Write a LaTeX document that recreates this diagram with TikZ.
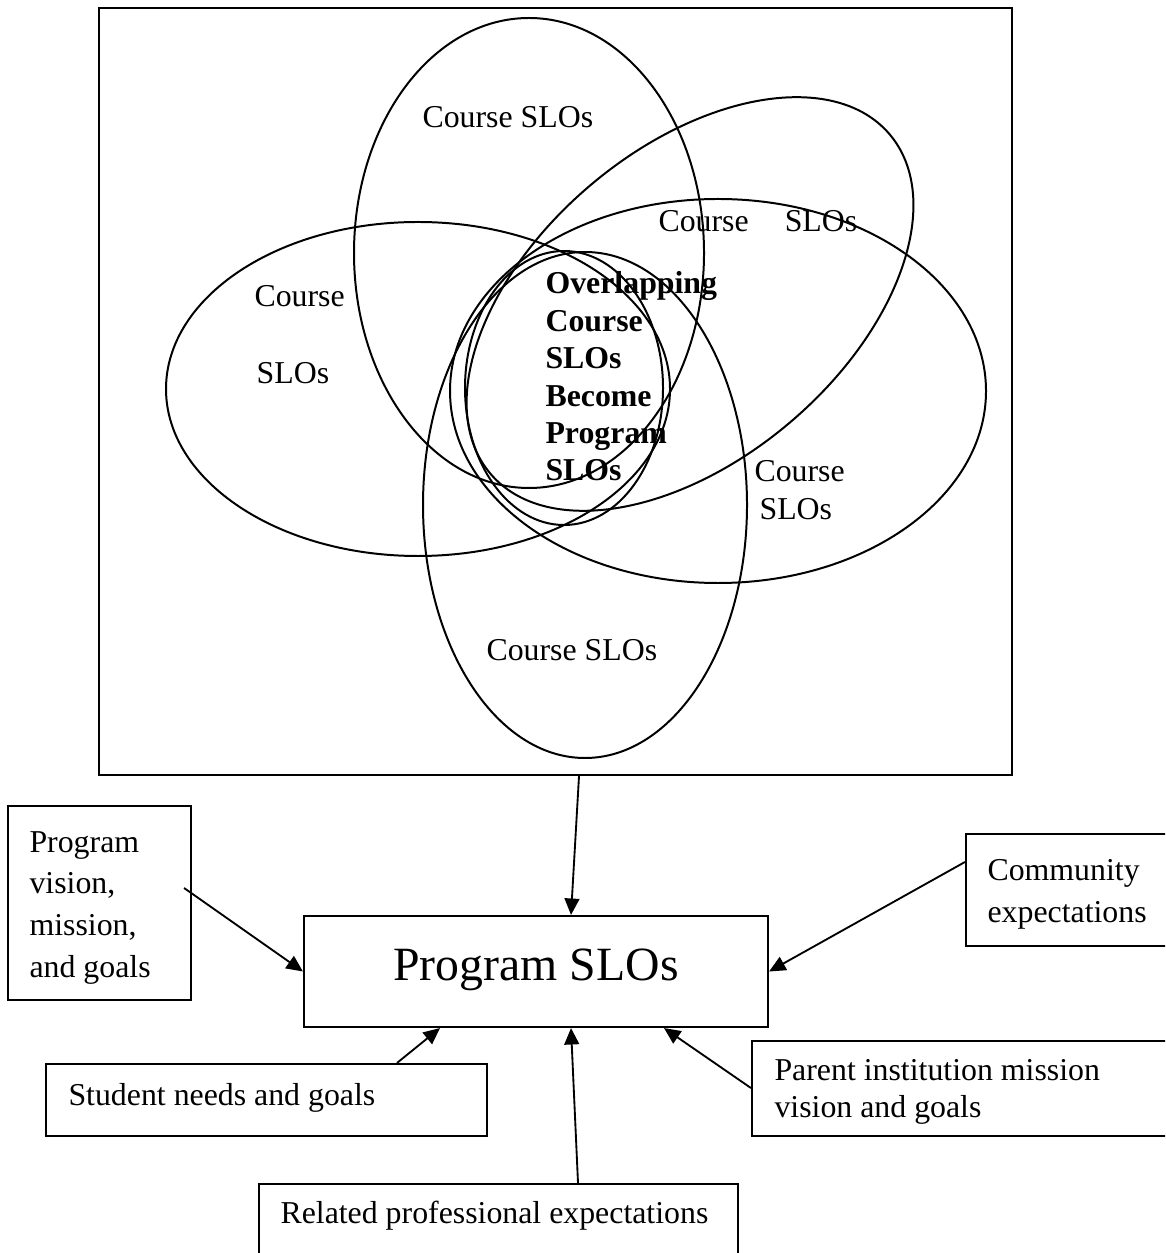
\documentclass[tikz,border=0pt]{standalone}
\usepackage{fontspec}
\setmainfont{Liberation Serif}
\usetikzlibrary{arrows.meta,calc,fit}
\begin{document}
\begin{tikzpicture}[x=0.377pt,y=-0.377pt,
  outline/.style={draw, line width=0.8pt, inner sep=0pt},
  ring/.style={line width=0.75pt},
  feed/.style={line width=0.7pt, -{Triangle[length=6.2pt,width=5.6pt]}},
  lbl/.style={anchor=base west, inner sep=0pt, font=\fontsize{12}{14}\selectfont},
]
\clip (0,0) rectangle (1165,1253);

% overlapping course outcome sets
\draw[ring] (529,253) ellipse [x radius=175, y radius=235];
\draw[ring] (418,389) ellipse [x radius=252, y radius=167];
\draw[ring] (718,391) ellipse [x radius=268, y radius=192];
\draw[ring] (585,505) ellipse [x radius=162, y radius=253];
\draw[ring, rotate around={40.4:(690,304)}] (690,304) ellipse [x radius=262, y radius=155];
\draw[ring] (564,388) ellipse [x radius=99, y radius=137];

% frame around the course sets and the surrounding boxes
\node[outline, fit={(99,8) (1012,775)}] (frame) {};
\node[outline, fit={(304,916) (768,1027)}] (slo) {};
\node[outline, fit={(8,806) (191,1000)}] (vision) {};
\node[outline, fit={(966,834) (1180,946)}] (comm) {};
\node[outline, fit={(46,1064) (487,1136)}] (student) {};
\node[outline, fit={(259,1184) (738,1290)}] (related) {};
\node[outline, fit={(752,1041) (1180,1136)}] (parent) {};

% labels inside the ellipses
\node[lbl] (tLbl) at (422,128) {Course SLOs};
\node[lbl, font=\fontsize{12}{28.7}\selectfont] (lLbl) at (254,307)
  {\begin{tabular}[t]{@{}l@{}}Course\\\hspace{0.8pt}SLOs\end{tabular}};
\node[lbl] (rLbl) at (658,232) {Course\hspace{13.6pt}SLOs};
\node[lbl, font=\fontsize{12}{13.95}\selectfont] (rlLbl) at (754,482)
  {\begin{tabular}[t]{@{}l@{}}Course\\\hspace{1.9pt}SLOs\end{tabular}};
\node[lbl] (bLbl) at (486,660) {Course SLOs};
\node[lbl, font=\fontsize{12}{14.1}\selectfont\bfseries] (core) at (545,294)
  {\begin{tabular}[t]{@{}l@{}}Overlapping\\Course\\SLOs\\Become\\Program\\SLOs\end{tabular}};

% labels of the boxes
\node[anchor=base, inner sep=0pt, font=\fontsize{18}{21}\selectfont] (sloText) at (536,980) {Program SLOs};
\node[lbl, font=\fontsize{12}{15.8}\selectfont] (visionText) at (29,852)
  {\begin{tabular}[t]{@{}l@{}}Program\\vision,\\mission,\\and goals\end{tabular}};
\node[lbl, font=\fontsize{12}{16}\selectfont] (commText) at (987,880)
  {\begin{tabular}[t]{@{}l@{}}Community\\expectations\end{tabular}};
\node[lbl] (studentText) at (68,1105) {Student needs and goals};
\node[lbl] (relatedText) at (280,1223) {Related professional expectations};
\node[lbl, font=\fontsize{12}{13.95}\selectfont] (parentText) at (774,1080)
  {\begin{tabular}[t]{@{}l@{}}Parent institution mission\\vision and goals\end{tabular}};

% influences feeding the program outcomes
\draw[feed] ($(frame.south)+(23.5,0)$) -- ($(slo.north)+(35,0)$);
\draw[feed] ($(vision.east)+(-8,-15)$) -- (slo.west);
\draw[feed] ($(comm.west)+(0,-28)$) -- (slo.east);
\draw[feed] ($(student.north)+(130.5,0)$) -- ($(slo.south)+(-96,0)$);
\draw[feed] ($(related.north)+(79.5,0)$) -- ($(slo.south)+(35,0)$);
\draw[feed] ($(parent.west)+(0,-0.5)$) -- ($(slo.south)+(128,0)$);
\end{tikzpicture}
\end{document}
